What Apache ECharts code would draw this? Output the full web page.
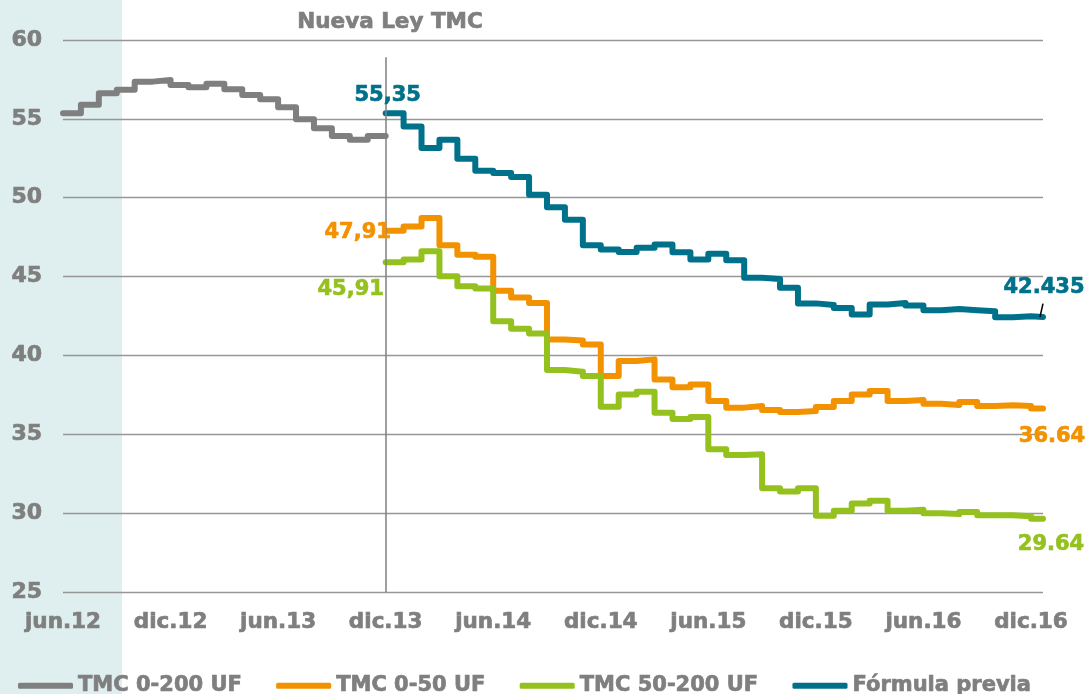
<!DOCTYPE html>
<html>
<head>
<meta charset="utf-8">
<title>Nueva Ley TMC</title>
<script src="https://cdn.jsdelivr.net/npm/echarts@6/dist/echarts.min.js"></script>
<style>
  html, body { margin: 0; padding: 0; background: #fff; }
  #chart { width: 1087px; height: 694px; }
</style>
</head>
<body>
<div id="chart"></div>
<script>
// month index: 0 = jun.12, 18 = dic.13, 54 = dic.16
const tickLabels = ['jun.12', 'dic.12', 'jun.13', 'dic.13', 'jun.14', 'dic.14', 'jun.15', 'dic.15', 'jun.16', 'dic.16']
const xMax = 54.67
const lawStart = 18

// TMC 0-200 UF, jun.12 .. nov.13
const tmc0200 = [55.36, 55.89, 56.63, 56.84, 57.36, 57.47, 57.15, 57.0, 57.22, 56.88, 56.52, 56.25,
  55.74, 54.98, 54.41, 53.92, 53.67, 53.92]

// dic.13 .. dic.16
const tmc050 = [47.91, 48.18, 48.72, 46.98, 46.39, 46.25, 44.1, 43.68, 43.33, 41.01, 40.95, 40.7,
  38.69, 39.64, 39.75, 38.48, 37.98, 38.16, 37.11, 36.69, 36.79, 36.54, 36.41, 36.47,
  36.73, 37.11, 37.53, 37.74, 37.11, 37.17, 36.94, 36.85, 37.04, 36.79, 36.84, 36.79, 36.64]
const tmc50200 = [45.91, 46.08, 46.6, 45.02, 44.39, 44.24, 42.17, 41.69, 41.39, 39.07, 38.97, 38.69,
  36.75, 37.53, 37.7, 36.37, 35.97, 36.1, 34.05, 33.69, 33.73, 31.58, 31.37, 31.58,
  29.83, 30.15, 30.61, 30.78, 30.15, 30.21, 30.0, 29.94, 30.08, 29.87, 29.87, 29.8, 29.64]
const formulaPrevia = [55.35, 54.51, 53.15, 53.67, 52.47, 51.71, 51.56, 51.31, 50.19, 49.39, 48.61, 46.98,
  46.71, 46.56, 46.82, 47.03, 46.54, 46.08, 46.44, 46.03, 44.92, 44.85, 44.29, 43.3,
  43.2, 43.0, 42.59, 43.23, 43.33, 43.16, 42.87, 42.95, 42.87, 42.8, 42.42, 42.49, 42.435]

const startLabels = ['47,91', '45,91', '55,35']
const endLabels = ['36.64', '29.64', '42.435']

const GRAY = '#7f7f7f'
const ORANGE = '#f39200'
const GREEN = '#95c11f'
const BLUE = '#00718b'
const FONT = 'DejaVu Sans'

// heavy text like the original (thin outline in the same colour)
function heavy(color, size) {
  return {
    color: color,
    fontFamily: FONT,
    fontWeight: 'bold',
    fontSize: size,
    textBorderColor: color,
    textBorderWidth: 0.7
  }
}

// monthly steps; the last value is held until the end of the axis
function steps(values, first, last) {
  const pts = values.map((v, i) => [first + i, v])
  pts.push([last, values[values.length - 1]])
  return pts
}

function labelPoint(coord, text, color, offset) {
  return {
    coord: coord,
    symbol: 'circle',
    symbolSize: 0,
    label: Object.assign({
      show: true,
      position: 'inside',
      formatter: text,
      offset: offset
    }, heavy(color, 21))
  }
}

function lineSeries(name, color, data, marks, extra) {
  return Object.assign({
    name: name,
    type: 'line',
    step: 'end',
    data: data,
    showSymbol: false,
    symbol: 'none',
    z: 3,
    lineStyle: { color: color, width: 6, cap: 'round', join: 'round' },
    itemStyle: { color: color },
    markPoint: { silent: true, data: marks }
  }, extra || {})
}

const chart = echarts.init(document.getElementById('chart'))

const lastOf = arr => arr[arr.length - 1]

const option = {
  animation: false,
  textStyle: { fontFamily: FONT },
  title: {
    text: 'Nueva Ley TMC',
    left: 385,
    top: 6,
    textAlign: 'center',
    textStyle: heavy(GRAY, 21.5)
  },
  graphic: [{
    type: 'rect',
    z: -10,
    shape: { x: 0, y: 0, width: 122, height: 694 },
    style: { fill: '#dfeeee' },
    silent: true
  }],
  grid: { left: 63, right: 44, top: 40, bottom: 102 },
  xAxis: {
    type: 'value',
    min: 0,
    max: xMax,
    interval: 6,
    axisLine: { show: false },
    axisTick: { show: false },
    splitLine: { show: false },
    axisLabel: Object.assign({
      margin: 19,
      showMaxLabel: false,
      formatter: v => (Math.abs(v % 6) < 1e-6 ? tickLabels[Math.round(v / 6)] || '' : '')
    }, heavy(GRAY, 21.5))
  },
  yAxis: {
    type: 'value',
    min: 25,
    max: 60,
    interval: 5,
    axisLine: { show: false },
    axisTick: { show: false },
    splitLine: { lineStyle: { color: '#969696', width: 1.3 } },
    axisLabel: Object.assign({ margin: 21 }, heavy(GRAY, 22))
  },
  legend: {
    top: 670,
    left: 13,
    icon: 'roundRect',
    itemWidth: 55,
    itemHeight: 6,
    itemGap: 34,
    textStyle: heavy(GRAY, 21),
    data: ['TMC 0-200 UF', 'TMC 0-50 UF', 'TMC 50-200 UF', 'Fórmula previa']
  },
  series: [
    lineSeries('TMC 0-200 UF', GRAY, steps(tmc0200, 0, lawStart), [], {
      markLine: {
        silent: true,
        symbol: 'none',
        label: { show: false },
        lineStyle: { color: GRAY, width: 1.5, type: 'solid' },
        data: [[{ coord: [lawStart, 25] }, { coord: [lawStart, 58.9] }]]
      }
    }),
    lineSeries('TMC 0-50 UF', ORANGE, steps(tmc050, lawStart, xMax), [
      labelPoint([lawStart, tmc050[0]], startLabels[0], ORANGE, [-28, 2]),
      labelPoint([xMax, lastOf(tmc050)], endLabels[0], ORANGE, [9, 28])
    ]),
    lineSeries('TMC 50-200 UF', GREEN, steps(tmc50200, lawStart, xMax), [
      labelPoint([lawStart, tmc50200[0]], startLabels[1], GREEN, [-35, 27]),
      labelPoint([xMax, lastOf(tmc50200)], endLabels[1], GREEN, [8, 26])
    ]),
    lineSeries('Fórmula previa', BLUE, steps(formulaPrevia, lawStart, xMax), [
      labelPoint([lawStart, formulaPrevia[0]], startLabels[2], BLUE, [2, -18]),
      labelPoint([xMax, lastOf(formulaPrevia)], endLabels[2], BLUE, [1, -29])
    ], {
      markLine: {
        silent: true,
        symbol: 'none',
        label: { show: false },
        lineStyle: { color: '#000', width: 1.5, type: 'solid' },
        data: [[{ coord: [xMax - 0.17, lastOf(formulaPrevia)] }, { coord: [xMax, lastOf(formulaPrevia) + 0.85] }]]
      }
    })
  ]
}

chart.setOption(option)
</script>
</body>
</html>
